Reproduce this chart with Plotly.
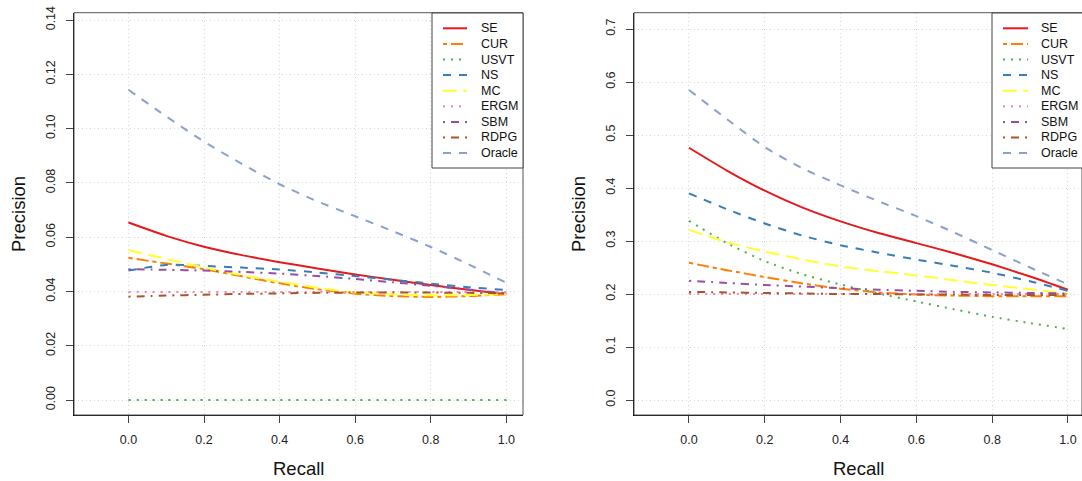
import plotly.graph_objects as go

recall = [0.0, 0.1, 0.2, 0.3, 0.4, 0.5, 0.6, 0.7, 0.8, 0.9, 1.0]
methods = ["SE", "CUR", "USVT", "NS", "MC", "ERGM", "SBM", "RDPG", "Oracle"]

# Left panel precision values
left_SE = [0.0654, 0.0605, 0.0565, 0.0534, 0.0508, 0.0485, 0.0463, 0.0443, 0.0424, 0.0406, 0.0390]
left_CUR = [0.0524, 0.0503, 0.0482, 0.0456, 0.0430, 0.0408, 0.0392, 0.0383, 0.0380, 0.0383, 0.0390]
left_USVT = [0.0, 0.0, 0.0, 0.0, 0.0, 0.0, 0.0, 0.0, 0.0, 0.0, 0.0]
left_NS = [0.0477, 0.0498, 0.0494, 0.0488, 0.0481, 0.0470, 0.0457, 0.0443, 0.0429, 0.0416, 0.0405]
left_MC = [0.0553, 0.0520, 0.0488, 0.0460, 0.0436, 0.0414, 0.0397, 0.0389, 0.0386, 0.0387, 0.0390]
left_ERGM = [0.0398, 0.0398, 0.0398, 0.0398, 0.0398, 0.0398, 0.0398, 0.0398, 0.0398, 0.0398, 0.0398]
left_SBM = [0.0482, 0.0480, 0.0477, 0.0472, 0.0466, 0.0457, 0.0446, 0.0434, 0.0421, 0.0407, 0.0393]
left_RDPG = [0.0381, 0.0385, 0.0388, 0.0391, 0.0393, 0.0395, 0.0396, 0.0396, 0.0396, 0.0395, 0.0393]
left_Oracle = [0.1143, 0.1045, 0.0952, 0.0870, 0.0795, 0.0732, 0.0677, 0.0622, 0.0564, 0.0500, 0.0432]

# Right panel precision values
right_SE = [0.476, 0.433, 0.395, 0.363, 0.337, 0.315, 0.296, 0.277, 0.256, 0.233, 0.208]
right_CUR = [0.259, 0.245, 0.232, 0.220, 0.210, 0.203, 0.199, 0.197, 0.196, 0.196, 0.196]
right_USVT = [0.338, 0.296, 0.262, 0.237, 0.218, 0.201, 0.186, 0.171, 0.157, 0.145, 0.134]
right_NS = [0.390, 0.360, 0.333, 0.310, 0.292, 0.278, 0.265, 0.253, 0.240, 0.224, 0.206]
right_MC = [0.321, 0.298, 0.280, 0.265, 0.252, 0.243, 0.235, 0.226, 0.217, 0.209, 0.201]
right_ERGM = [0.200, 0.200, 0.200, 0.200, 0.200, 0.200, 0.200, 0.200, 0.200, 0.200, 0.200]
right_SBM = [0.225, 0.221, 0.217, 0.214, 0.211, 0.208, 0.206, 0.204, 0.203, 0.202, 0.201]
right_RDPG = [0.204, 0.203, 0.202, 0.201, 0.200, 0.200, 0.199, 0.199, 0.198, 0.198, 0.198]
right_Oracle = [0.585, 0.530, 0.477, 0.437, 0.405, 0.375, 0.347, 0.316, 0.283, 0.250, 0.218]

left_ticks = [0.00, 0.02, 0.04, 0.06, 0.08, 0.10, 0.12, 0.14]
right_ticks = [0.0, 0.1, 0.2, 0.3, 0.4, 0.5, 0.6, 0.7]
x_ticks = [0.0, 0.2, 0.4, 0.6, 0.8, 1.0]

left_data = [left_SE, left_CUR, left_USVT, left_NS, left_MC, left_ERGM, left_SBM, left_RDPG, left_Oracle]
right_data = [right_SE, right_CUR, right_USVT, right_NS, right_MC, right_ERGM, right_SBM, right_RDPG, right_Oracle]

colors = ["#E41A1C", "#FF7F00", "#4DAF4A", "#377EB8", "#FFFF33", "#F781BF", "#984EA3", "#A65628", "#8DA0CB"]
dashes = ["solid", "4px,4px,12px,4px", "2px,6px", "8px,8px", "14px,6px", "2px,6px",
          "2px,6px,8px,6px", "2px,6px,8px,6px", "8px,8px"]

W, H = 1082, 481
FONT = "Liberation Sans, Arial, Helvetica, sans-serif"

fig = go.Figure()
for i, m in enumerate(methods):
    fig.add_trace(go.Scatter(x=recall, y=left_data[i], mode="lines", name=m, showlegend=False,
                             line=dict(color=colors[i], width=2, dash=dashes[i], shape="spline", smoothing=0.6),
                             xaxis="x", yaxis="y"))
for i, m in enumerate(methods):
    fig.add_trace(go.Scatter(x=recall, y=right_data[i], mode="lines", name=m, showlegend=False,
                             line=dict(color=colors[i], width=2, dash=dashes[i], shape="spline", smoothing=0.6),
                             xaxis="x2", yaxis="y2"))

ydom = [1 - 415 / H, 1 - 12.7 / H]
xdom1 = [74 / W, 523 / W]
xdom2 = [634 / W, 1.0]

axis_common = dict(showline=True, linecolor="black", linewidth=1, mirror=False,
                   ticks="outside", ticklen=7, tickcolor="#444", tickwidth=1,
                   showgrid=True, gridcolor="#d8d8d8", griddash="1px,3px", gridwidth=1,
                   zeroline=False, automargin=False,
                   tickfont=dict(family=FONT, size=12.5, color="#222"))

shapes = [
    dict(type="rect", xref="x domain", yref="y domain", x0=0, x1=1, y0=0, y1=1,
         line=dict(color="#555", width=1), layer="above"),
    dict(type="rect", xref="x2 domain", yref="y2 domain", x0=0, x1=1, y0=0, y1=1,
         line=dict(color="#555", width=1), layer="above"),
]
annotations = [
    dict(text="Recall", xref="paper", yref="paper", x=298.5 / W, y=1 - 468 / H,
         xanchor="center", yanchor="middle", showarrow=False,
         font=dict(family=FONT, size=18.5, color="#111")),
    dict(text="Recall", xref="paper", yref="paper", x=858 / W, y=1 - 468 / H,
         xanchor="center", yanchor="middle", showarrow=False,
         font=dict(family=FONT, size=18.5, color="#111")),
    dict(text="Precision", xref="paper", yref="paper", x=18 / W, y=1 - 214 / H,
         xanchor="center", yanchor="middle", showarrow=False, textangle=-90,
         font=dict(family=FONT, size=18.5, color="#111")),
    dict(text="Precision", xref="paper", yref="paper", x=578 / W, y=1 - 214 / H,
         xanchor="center", yanchor="middle", showarrow=False, textangle=-90,
         font=dict(family=FONT, size=18.5, color="#111")),
]

# Legends (R-style boxes drawn in paper pixels)
row0, rowstep = 28.3, 15.6
legend_boxes = [
    dict(box=(432, 523), line=(443, 467), text=479),
    dict(box=(992, 1090), line=(1003, 1028), text=1039),
]
for lb in legend_boxes:
    shapes.append(dict(type="rect", xref="paper", yref="paper",
                       x0=lb["box"][0] / W, x1=lb["box"][1] / W,
                       y0=1 - 168 / H, y1=1 - 13 / H,
                       line=dict(color="#444", width=1), fillcolor="white", layer="above"))
    for i, m in enumerate(methods):
        yy = 1 - (row0 + i * rowstep) / H
        shapes.append(dict(type="line", xref="paper", yref="paper",
                           x0=lb["line"][0] / W, x1=lb["line"][1] / W, y0=yy, y1=yy,
                           line=dict(color=colors[i], width=2, dash=dashes[i]), layer="above"))
        annotations.append(dict(text=m, xref="paper", yref="paper", x=lb["text"] / W, y=yy,
                                xanchor="left", yanchor="middle", showarrow=False,
                                font=dict(family=FONT, size=12.5, color="#111")))

fig.update_layout(
    width=W, height=H,
    margin=dict(l=0, r=0, t=0, b=0, autoexpand=False),
    paper_bgcolor="white", plot_bgcolor="white",
    font=dict(family=FONT, color="#111"),
    showlegend=False,
    xaxis=dict(domain=xdom1, range=[-0.144, 1.044], tickvals=x_ticks, tickformat=".1f",
               anchor="y", ticklabelstandoff=6, **axis_common),
    yaxis=dict(domain=ydom, range=[-0.0055, 0.1427], tickvals=left_ticks, tickformat=".2f",
               anchor="x", tickangle=-90, ticklabelstandoff=6, **axis_common),
    xaxis2=dict(domain=xdom2, range=[-0.145, 1.037], tickvals=x_ticks, tickformat=".1f",
                anchor="y2", ticklabelstandoff=6, **axis_common),
    yaxis2=dict(domain=ydom, range=[-0.0283, 0.7308], tickvals=right_ticks, tickformat=".1f",
                anchor="x2", tickangle=-90, ticklabelstandoff=6, **axis_common),
    shapes=shapes,
    annotations=annotations,
)

fig.write_html("out.html", config={"displayModeBar": False},
               post_script="document.body.style.margin='0';document.body.style.overflow='hidden';")
